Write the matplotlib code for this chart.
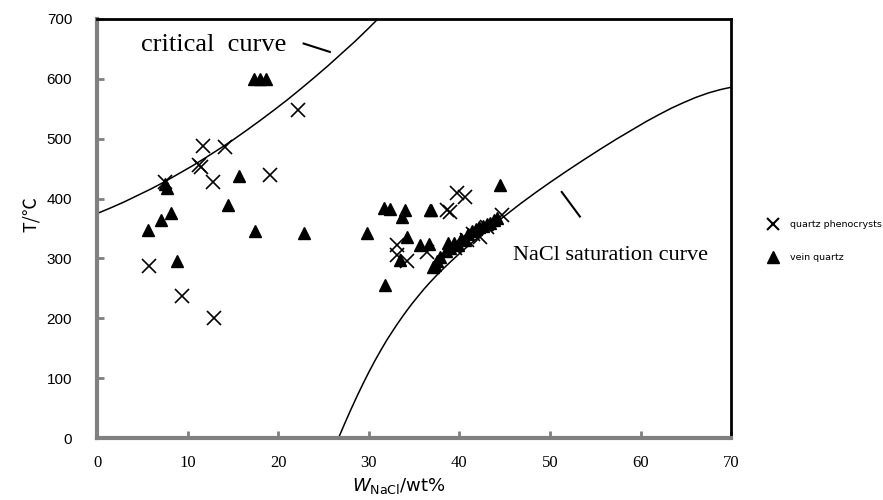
import matplotlib
matplotlib.use('Agg')
import matplotlib.pyplot as plt
from matplotlib.lines import Line2D

# ----- data -----
# quartz phenocrysts (x = W_NaCl wt%, y = T °C)
pheno_x = [22.2, 11.7, 14.1, 11.2, 11.5, 12.8, 19.1, 7.5, 5.7, 9.4, 12.9,
           33.1, 33.1, 34.2, 36.4, 38.6, 39.0, 39.7, 40.6, 44.7,
           39.5, 40.8, 41.5, 42.3, 43.0]
pheno_y = [548, 488, 486, 456, 453, 428, 439, 428, 287, 237, 201,
           322, 306, 295, 311, 381, 378, 409, 403, 372,
           318, 331, 340, 336, 352]

# vein quartz
vein_x = [17.3, 18.0, 18.7, 7.5, 7.7, 15.7, 5.6, 7.1, 8.2, 14.5, 17.4, 22.8, 8.8, 29.8,
          31.7, 32.3, 34.0, 33.7, 36.8, 36.9, 44.5, 34.2, 35.6, 36.6, 33.4, 31.8,
          37.1, 37.5, 37.9, 38.5, 38.7, 39.0, 39.4, 39.8, 40.2, 40.6, 41.0,
          41.4, 41.8, 42.2, 42.6, 43.0, 43.4, 43.8, 44.2, 37.3]
vein_y = [600, 600, 600, 425, 418, 437, 348, 365, 376, 389, 345, 343, 295, 342,
          385, 383, 381, 370, 381, 381, 423, 336, 322, 324, 297, 256,
          286, 296, 303, 312, 325, 318, 326, 322, 332, 330, 340,
          345, 350, 352, 355, 358, 360, 365, 368, 289]

# critical curve
crit_x = [0, 1.5, 3, 4.5, 6, 7.5, 9, 10.5, 12, 13.5, 15, 16.5, 18, 19.5, 21,
          22.5, 24, 25.5, 27, 28.5, 30, 31.0]
crit_y = [375, 384.5, 394.5, 405.5, 416.5, 428.5, 441.5, 454.5, 468.5, 483, 498, 514,
          530.5, 547.5, 565, 583.5, 602.5, 622, 642.5, 663, 685, 700]

# NaCl saturation curve
sat_x = [26.65, 27.3, 28.0, 28.7, 29.4, 30.0, 30.7, 31.3, 32.0, 32.6, 33.1, 33.7,
         34.2, 34.8, 35.5, 36.1, 36.75, 37.5, 38.3, 39.1, 40.0, 41.2, 42.5, 43.7,
         45.0, 46.7, 48.5, 50.1, 51.8, 53.6, 55.5, 57.3, 59.2, 60.6, 62.0, 63.4,
         64.7, 66.1, 67.5, 68.8, 70.0]
sat_y = [0, 23, 47, 70, 92, 110, 130, 146, 164, 178, 189.5, 202.5,
         213, 225, 238, 249, 260, 272, 284, 295.5, 308, 324, 340.5, 355.5,
         371, 391, 411, 428, 445.5, 463.5, 482, 499, 516, 528.5, 540, 551,
         560, 569, 576.5, 582, 586]

x_ticks = [0, 10, 20, 30, 40, 50, 60, 70]
y_ticks = [0, 100, 200, 300, 400, 500, 600, 700]

# ----- plot -----
fig = plt.figure(figsize=(8.83, 5.0), dpi=100)
ax = fig.add_axes([0.110, 0.124, 0.718, 0.838])

ax.plot(crit_x, crit_y, color='black', lw=1.1)
ax.plot(sat_x, sat_y, color='black', lw=1.1)

ax.plot(pheno_x, pheno_y, ls='none', marker='x', ms=10, mew=1.2, color='black')
ax.plot(vein_x, vein_y, ls='none', marker='^', ms=9, color='black')

# curve labels and pointer marks
ax.text(4.8, 657, 'critical  curve', family='Liberation Serif', fontsize=19,
        va='center', ha='left')
ax.plot([22.8, 25.7], [659, 645], color='black', lw=1.5)
ax.text(45.9, 305, 'NaCl saturation curve', family='Liberation Serif',
        fontsize=16, va='center', ha='left')
ax.plot([51.3, 53.3], [411, 370], color='black', lw=1.5)

ax.set_xlim(0, 70)
ax.set_ylim(0, 700)
ax.set_xticks(x_ticks)
ax.set_yticks(y_ticks)
ax.set_xticklabels([str(v) for v in x_ticks], family='Liberation Serif', fontsize=12)
ax.set_yticklabels([str(v) for v in y_ticks], family='Liberation Sans', fontsize=11)
ax.tick_params(axis='both', direction='in', length=5, width=2, color='#808080')
ax.tick_params(axis='y', pad=18)
ax.tick_params(axis='x', pad=12)

for side in ['left', 'bottom']:
    ax.spines[side].set_color('#808080')
    ax.spines[side].set_linewidth(3)
for side in ['top', 'right']:
    ax.spines[side].set_color('black')
    ax.spines[side].set_linewidth(2)

ax.set_xlabel(r'$W_{\rm NaCl}$/wt%', fontsize=13)
ax.xaxis.set_label_coords(0.476, -0.09)
ax.set_ylabel('T/℃', family=['Noto Sans CJK SC', 'DejaVu Sans'], fontsize=13)
ax.yaxis.set_label_coords(-0.09, 0.535)

handles = [Line2D([], [], ls='none', marker='x', ms=9, mew=1.5, color='black'),
           Line2D([], [], ls='none', marker='^', ms=8, color='black')]
fig.legend(handles, ['quartz phenocrysts', 'vein quartz'], loc='center left',
           bbox_to_anchor=(0.858, 0.518), frameon=False, fontsize=6.8,
           labelspacing=2.5, handletextpad=1.0, handlelength=1.5)

fig.savefig('out.png', dpi=100)
